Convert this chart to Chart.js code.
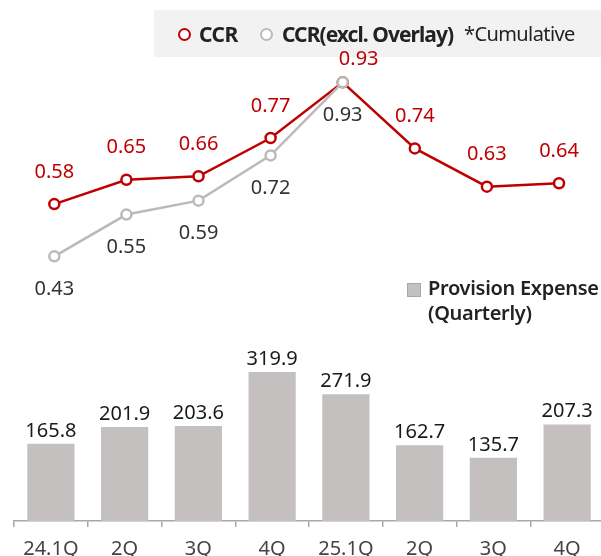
<!DOCTYPE html>
<html>
<head>
<meta charset="utf-8">
<script src="https://cdn.jsdelivr.net/npm/chart.js@4.4.1/dist/chart.umd.min.js"></script>
<style>
  html, body { margin: 0; padding: 0; overflow: hidden; background: #fff; }
  #wrap { position: relative; width: 601px; height: 556px; overflow: hidden; font-family: "Noto Sans", sans-serif; }
  #chart { position: absolute; left: 0; top: 0; }
  .legend-top { position: absolute; left: 154px; top: 10px; width: 447px; height: 47px; background: #f2f2f2; }
  .lg { position: absolute; top: 21px; font-size: 21px; line-height: 26px; color: #222; white-space: nowrap; }
  .dot { position: absolute; width: 9px; height: 9px; border-radius: 50%; background: #fff; }
  .legend-bar { position: absolute; left: 407px; top: 283px; }
  .sq { position: absolute; left: 0; top: 0; width: 12px; height: 12px; background: #c4c0c0; border: 1px solid #aaa6a6; }
  .bartxt { position: absolute; left: 21px; top: -8px; font-size: 20px; line-height: 25px; color: #222; font-weight: 600; letter-spacing: -0.3px; white-space: nowrap; }
</style>
</head>
<body>
<div id="wrap">
  <!-- legend backdrop sits under the canvas so the peak label can overlap it -->
  <div class="legend-top"></div>
  <canvas id="chart" width="604" height="556"></canvas>
  <div class="dot" style="left:178px;top:28px;border:2.5px solid #c00000;"></div>
  <div class="lg" style="left:199px;font-weight:700;letter-spacing:-0.5px;">CCR</div>
  <div class="dot" style="left:260px;top:28px;border:2.5px solid #bdb9b9;"></div>
  <div class="lg" style="left:282px;font-weight:700;letter-spacing:-0.95px;">CCR(excl. Overlay)</div>
  <div class="lg" style="left:464px;font-size:20px;letter-spacing:-0.6px;">*Cumulative</div>
  <div class="legend-bar">
    <div class="sq"></div>
    <div class="bartxt">Provision Expense<br>(Quarterly)</div>
  </div>
</div>
<script>
const quarters = ['24.1Q', '2Q', '3Q', '4Q', '25.1Q', '2Q', '3Q', '4Q'];
const ccr = [0.58, 0.65, 0.66, 0.77, 0.93, 0.74, 0.63, 0.64];
const ccrExclOverlay = [0.43, 0.55, 0.59, 0.72, 0.93, null, null, null];
const provisionExpense = [165.8, 201.9, 203.6, 319.9, 271.9, 162.7, 135.7, 207.3];

const RED = '#c00000';
const GRAY_LINE = '#bdb9b9';
const BAR = '#c4c0c0';

// line points sit on their own (hidden) linear x scale so they can be spaced a bit tighter than the bars
const toPoints = arr => arr.map((v, i) => ({ x: i, y: v })).filter(p => p.y !== null);

const valueLabels = {
  id: 'valueLabels',
  afterDatasetsDraw(chart) {
    const ctx = chart.ctx;
    ctx.save();
    ctx.textAlign = 'center';
    chart.data.datasets.forEach((ds, di) => {
      const meta = chart.getDatasetMeta(di);
      meta.data.forEach((el, i) => {
        const raw = ds.data[i];
        const val = typeof raw === 'object' ? raw.y : raw;
        if (ds.type === 'bar') {
          ctx.font = '20px "Noto Sans"';
          ctx.fillStyle = '#1a1a1a';
          ctx.textBaseline = 'alphabetic';
          ctx.fillText(val.toFixed(1), el.x, el.y - 7);
        } else {
          const shift = (ds.labelShift && ds.labelShift[i]) || [0, ds.labelDy];
          ctx.font = '20px "Noto Sans"';
          ctx.fillStyle = ds.labelColor;
          ctx.textBaseline = 'middle';
          ctx.fillText(val.toFixed(2), el.x + shift[0], el.y + shift[1]);
        }
      });
    });
    ctx.restore();
  }
};

new Chart(document.getElementById('chart'), {
  data: {
    labels: quarters,
    datasets: [
      {
        type: 'line',
        label: 'CCR(excl. Overlay)',
        data: toPoints(ccrExclOverlay),
        xAxisID: 'xl',
        yAxisID: 'yl',
        borderColor: GRAY_LINE,
        borderWidth: 2.5,
        pointRadius: 5,
        pointBorderWidth: 2.5,
        pointBackgroundColor: '#fff',
        pointBorderColor: GRAY_LINE,
        labelColor: '#333',
        labelDy: 33,
        order: 1
      },
      {
        type: 'line',
        label: 'CCR',
        data: toPoints(ccr),
        xAxisID: 'xl',
        yAxisID: 'yl',
        borderColor: RED,
        borderWidth: 2.5,
        pointRadius: 5,
        pointBorderWidth: 2.5,
        pointBackgroundColor: '#fff',
        pointBorderColor: RED,
        labelColor: RED,
        labelDy: -32,
        labelShift: { 4: [16, -23] },
        order: 2
      },
      {
        type: 'bar',
        label: 'Provision Expense (Quarterly)',
        data: provisionExpense,
        xAxisID: 'x',
        yAxisID: 'yb',
        backgroundColor: BAR,
        grouped: false,
        categoryPercentage: 0.64,
        barPercentage: 1,
        order: 3
      }
    ]
  },
  options: {
    responsive: false,
    animation: false,
    layout: { autoPadding: false, padding: { left: 14, right: 0, top: 0, bottom: 0 } },
    plugins: { legend: { display: false }, tooltip: { enabled: false } },
    scales: {
      x: {
        type: 'category',
        offset: true,
        grid: { offset: true, drawOnChartArea: false, drawTicks: true, tickLength: 6, color: '#a8a8a8', lineWidth: 1.5 },
        border: { color: '#a8a8a8', width: 1.5 },
        ticks: { color: '#444', font: { family: 'Noto Sans', size: 20 }, padding: 10, maxRotation: 0, autoSkip: false },
        afterFit(scale) { scale.height = 35; }
      },
      xl: { type: 'linear', display: false, min: -0.559, max: 7.624 },
      yb: { display: false, min: 0, max: 1118 },
      yl: { display: false, min: -0.3306, max: 1.1665 }
    }
  },
  plugins: [valueLabels]
});
</script>
</body>
</html>
